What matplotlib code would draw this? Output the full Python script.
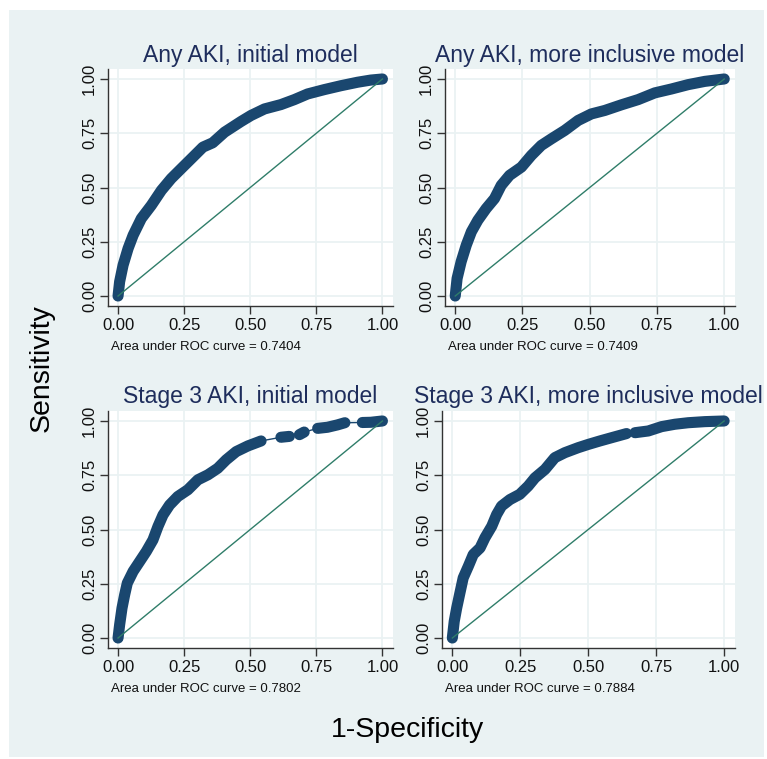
import matplotlib
matplotlib.use("Agg")
import matplotlib.pyplot as plt
from matplotlib.patches import Rectangle

plt.rcParams['font.family'] = ['Liberation Sans', 'DejaVu Sans']

# ROC points (1-specificity, sensitivity)
any_init_fpr = [0, 0.006, 0.019, 0.038, 0.057, 0.088, 0.126, 0.164, 0.201, 0.239, 0.283, 0.321,
                0.358, 0.403, 0.465, 0.503, 0.554, 0.616, 0.667, 0.717, 0.780, 0.843, 0.906, 0.956, 1.0]
any_init_tpr = [0, 0.066, 0.142, 0.219, 0.280, 0.357, 0.418, 0.487, 0.541, 0.587, 0.640, 0.686,
                0.706, 0.755, 0.804, 0.832, 0.862, 0.882, 0.905, 0.931, 0.951, 0.969, 0.985, 0.995, 1.0]

any_incl_fpr = [0, 0.007, 0.022, 0.041, 0.060, 0.084, 0.115, 0.146, 0.171, 0.202, 0.246, 0.283,
                0.320, 0.357, 0.407, 0.457, 0.506, 0.556, 0.618, 0.680, 0.742, 0.804, 0.866, 0.928, 1.0]
any_incl_tpr = [0, 0.081, 0.158, 0.234, 0.296, 0.349, 0.403, 0.449, 0.510, 0.556, 0.594, 0.648,
                0.694, 0.724, 0.763, 0.809, 0.839, 0.855, 0.881, 0.905, 0.936, 0.954, 0.974, 0.989, 1.0]

s3_init_fpr = [0, 0.006, 0.015, 0.025, 0.035, 0.057, 0.082, 0.107, 0.132, 0.151, 0.170, 0.195,
               0.226, 0.264, 0.302, 0.340, 0.377, 0.409, 0.447, 0.491, 0.541,
               0.616, 0.648, 0.686, 0.704, 0.755, 0.792, 0.830, 0.858, 0.924, 0.956, 1.0]
s3_init_tpr = [0, 0.061, 0.138, 0.199, 0.253, 0.307, 0.353, 0.399, 0.452, 0.514, 0.567, 0.613,
               0.652, 0.683, 0.729, 0.752, 0.782, 0.821, 0.859, 0.885, 0.908,
               0.925, 0.929, 0.937, 0.949, 0.966, 0.971, 0.982, 0.992, 0.993, 0.994, 1.0]
s3_init_gaps = [20, 22, 24, 28]

s3_incl_fpr = [0, 0.007, 0.016, 0.028, 0.040, 0.059, 0.077, 0.102, 0.120, 0.145, 0.163, 0.181,
               0.212, 0.248, 0.279, 0.304, 0.341, 0.377, 0.414, 0.463, 0.500, 0.543, 0.586, 0.641,
               0.672, 0.721, 0.770, 0.819, 0.868, 0.929, 1.0]
s3_incl_tpr = [0, 0.077, 0.138, 0.208, 0.277, 0.331, 0.385, 0.415, 0.462, 0.515, 0.569, 0.608,
               0.638, 0.662, 0.700, 0.738, 0.777, 0.831, 0.854, 0.877, 0.892, 0.908, 0.923, 0.942,
               0.946, 0.954, 0.974, 0.985, 0.992, 0.997, 1.0]
s3_incl_gaps = [23]

titles = ["Any AKI, initial model", "Any AKI, more inclusive model",
          "Stage 3 AKI, initial model", "Stage 3 AKI, more inclusive model"]
auc_labels = ["0.7404", "0.7409", "0.7802", "0.7884"]
ticks = [0, 0.25, 0.5, 0.75, 1.0]
tick_labels = ["0.00", "0.25", "0.50", "0.75", "1.00"]

W, H = 767, 759
NAVY = '#1a476f'
BG = '#eaf2f3'

fig = plt.figure(figsize=(W / 100, H / 100), dpi=100)
fig.patch.set_facecolor('white')
fig.patches.append(Rectangle((9 / W, 1 - 757 / H), (764 - 9) / W, (757 - 10) / H,
                             transform=fig.transFigure, facecolor=BG, edgecolor='none', zorder=-5))

# axes boxes in pixels: left, top, right, bottom
boxes = [(108, 69, 393, 306), (445, 69, 735, 306), (108, 411, 393, 648), (442, 411, 735, 648)]
title_pads = [5, 5, 6, 6]
curves = [(any_init_fpr, any_init_tpr, []), (any_incl_fpr, any_incl_tpr, []),
          (s3_init_fpr, s3_init_tpr, s3_init_gaps), (s3_incl_fpr, s3_incl_tpr, s3_incl_gaps)]

for i, (l, t, r, b) in enumerate(boxes):
    ax = fig.add_axes([l / W, 1 - b / H, (r - l) / W, (b - t) / H])
    ax.set_facecolor('white')
    fpr, tpr, gaps = curves[i]

    # thin connector, then thick band over each dense run of points
    ax.plot(fpr, tpr, color=NAVY, lw=1.0, zorder=2)
    start = 0
    for g in gaps + [len(fpr) - 1]:
        ax.plot(fpr[start:g + 1], tpr[start:g + 1], color=NAVY, lw=8,
                solid_capstyle='round', solid_joinstyle='round', zorder=3)
        start = g + 1

    ax.plot([0, 1], [0, 1], color='#2f7d69', lw=1.0, zorder=4)

    ax.set_xlim(-0.038, 1.04)
    ax.set_ylim(-0.046, 1.046)
    ax.set_xticks(ticks)
    ax.set_yticks(ticks)
    ax.set_xticklabels(tick_labels, fontsize=12)
    ax.set_yticklabels(tick_labels, fontsize=12, rotation=90, va='center')
    ax.grid(True, color=BG, lw=1.3)
    ax.set_axisbelow(True)
    for s in ['top', 'right']:
        ax.spines[s].set_visible(False)
    for s in ['left', 'bottom']:
        ax.spines[s].set_color('#333333')
        ax.spines[s].set_linewidth(1.0)
    ax.tick_params(length=6, width=1.0, color='#333333', labelcolor='#111111')
    ax.tick_params(axis='y', pad=2)
    ax.tick_params(axis='x', pad=3)
    ax.set_title(titles[i], fontsize=16.5, color='#1e2d5c', pad=title_pads[i])

    fig.text((l + 3) / W, 1 - (b + 41) / H, "Area under ROC curve = " + auc_labels[i],
             fontsize=9.5, ha='left', va='center', color='#111111')

fig.text(407 / W, 1 - 730 / H, "1-Specificity", fontsize=20.5, ha='center', va='center')
fig.text(42 / W, 1 - 368 / H, "Sensitivity", fontsize=20.5, ha='center', va='center', rotation=90)

fig.savefig('out.png', dpi=100)
